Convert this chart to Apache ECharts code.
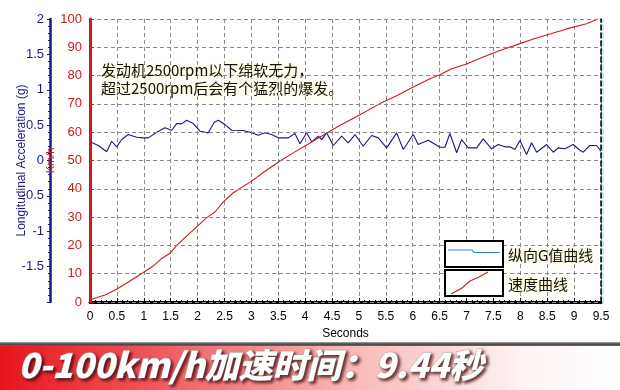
<!DOCTYPE html>
<html><head><meta charset="utf-8">
<script src="https://cdn.jsdelivr.net/npm/echarts@6/dist/echarts.min.js"></script>
<style>html,body{margin:0;padding:0;background:#fff}#c{width:620px;height:390px}</style>
</head><body><div id="c"></div>
<script>
var gTime = [0,0.154,0.31,0.403,0.496,0.589,0.712,0.868,0.991,1.084,1.24,1.394,1.519,1.612,1.704,1.797,1.92,2.045,2.199,2.31,2.385,2.509,2.634,2.849,3.006,3.128,3.253,3.377,3.5,3.686,3.81,3.903,4.028,4.121,4.244,4.307,4.4,4.522,4.634,4.678,4.801,4.926,5.08,5.236,5.359,5.515,5.701,5.824,6.009,6.102,6.288,6.506,6.599,6.691,6.816,6.909,7.032,7.188,7.31,7.466,7.589,7.714,7.807,7.9,7.993,8.117,8.21,8.303,8.489,8.612,8.704,8.829,8.983,9.108,9.169,9.294,9.418,9.498];
var gVals = [0.264,0.212,0.123,0.272,0.193,0.296,0.367,0.329,0.32,0.32,0.399,0.462,0.428,0.522,0.518,0.569,0.522,0.414,0.391,0.541,0.569,0.508,0.428,0.423,0.391,0.357,0.391,0.367,0.32,0.32,0.381,0.236,0.391,0.264,0.343,0.296,0.391,0.212,0.306,0.343,0.25,0.367,0.202,0.353,0.32,0.179,0.391,0.155,0.367,0.226,0.287,0.188,0.188,0.381,0.109,0.296,0.179,0.179,0.306,0.165,0.226,0.193,0.193,0.155,0.282,0.085,0.25,0.117,0.226,0.117,0.179,0.165,0.226,0.145,0.117,0.212,0.212,0.131];
var speedTime = [0,0.279,0.496,0.743,0.991,1.177,1.333,1.487,1.612,1.797,2.013,2.169,2.323,2.478,2.664,3.006,3.253,3.532,3.779,4.028,4.3,4.634,5.019,5.39,5.701,6.009,6.32,6.506,6.723,7.001,7.31,7.621,7.993,8.24,8.55,8.86,9.232,9.44];
var speedVals = [0.8,2.5,4.5,7.4,10.4,12.7,15.4,17.2,20,23.3,27.1,29.8,31.8,35.4,38.6,42.7,46.2,49.8,52.7,55.5,58.6,62.3,66.2,70.1,72.9,76,78.9,80.3,82.4,84.1,86.6,88.9,91.3,92.9,94.7,96.5,98.3,100];
var legendNames = ['纵向G值曲线','速度曲线'];
var noteLines = ['发动机2500rpm以下绵软无力，','超过2500rpm后会有个猛烈的爆发。'];
var bannerText = '0-100km/h加速时间：9.44秒';

var gData = gTime.map(function(t,i){return [t,gVals[i]];});
var sData = speedTime.map(function(t,i){return [t,speedVals[i]];});
var font = '"Liberation Sans", Arial, sans-serif';
var cjk = '"Noto Sans CJK SC", sans-serif';
var navy = '#1a1a80', red = '#cc1a1a';

var chart = echarts.init(document.getElementById('c'), null, {renderer:'canvas'});
chart.setOption({
  animation:false,
  backgroundColor:'#fff',
  grid:{left:90,right:19,top:19,bottom:88,containLabel:false,outerBoundsMode:'none'},
  xAxis:[{
    type:'value',min:0,max:9.5,interval:0.5,
    name:'Seconds',nameLocation:'middle',nameGap:26,nameMoveOverlap:false,
    nameTextStyle:{color:'#000',fontSize:12,fontFamily:font},
    axisLine:{onZero:false,lineStyle:{color:'#000',width:3}},
    axisTick:{show:true,inside:true,length:4,lineStyle:{color:'#000'}},
    minorTick:{show:true,splitNumber:5,length:2,lineStyle:{color:'#000'}},
    axisLabel:{color:'#000',fontSize:12,fontFamily:font,margin:9},
    splitLine:{show:true,lineStyle:{color:'#888',type:[4,3],width:1}}
  },{
    type:'value',min:0,max:9.5,position:'top',
    axisLine:{show:true,lineStyle:{color:'#000',width:1.5}},
    axisTick:{show:false},axisLabel:{show:false},splitLine:{show:false}
  }],
  yAxis:[{
    type:'value',min:0,max:100,interval:10,position:'left',
    name:'Km/h',nameLocation:'middle',nameGap:34,nameRotate:90,nameMoveOverlap:false,
    nameTextStyle:{color:red,fontSize:11,fontFamily:font},
    axisLine:{show:true,onZero:false,lineStyle:{color:red,width:3}},
    axisTick:{show:true,inside:true,length:4,lineStyle:{color:red}},
    minorTick:{show:true,splitNumber:5,length:2,lineStyle:{color:red}},
    axisLabel:{color:red,fontSize:13,fontFamily:font,margin:8},
    splitLine:{show:true,lineStyle:{color:'#888',type:[4,3],width:1}},
    z:5
  },{
    type:'value',min:-2,max:2,interval:0.5,position:'left',offset:40,
    name:'Longitudinal Acceleration (g)',nameLocation:'middle',nameGap:22,nameRotate:90,nameMoveOverlap:false,
    nameTextStyle:{color:navy,fontSize:12,fontFamily:font},
    axisLine:{show:true,onZero:false,lineStyle:{color:navy,width:2.5}},
    axisTick:{show:true,length:3,lineStyle:{color:navy}},
    minorTick:{show:true,splitNumber:5,length:2,lineStyle:{color:navy}},
    axisLabel:{color:navy,fontSize:13,fontFamily:font,margin:6,
      formatter:function(v){return v===-2?'':String(v);}},
    splitLine:{show:false}
  },{
    type:'value',min:0,max:100,position:'right',
    axisLine:{show:true,onZero:false,lineStyle:{color:'#000',width:1.5,type:[5,3],shadowColor:'#9ee8ee',shadowOffsetX:2}},
    axisTick:{show:false},axisLabel:{show:false},splitLine:{show:false}
  }],
  series:[{
    name:legendNames[0],type:'line',xAxisIndex:0,yAxisIndex:1,data:gData,
    showSymbol:false,lineStyle:{color:navy,width:1.1},z:3
  },{
    name:legendNames[1],type:'line',xAxisIndex:0,yAxisIndex:0,data:sData,
    showSymbol:false,lineStyle:{color:red,width:1.1},z:4
  }],
  graphic:[
    {type:'text',left:101,top:61,z:20,style:{text:noteLines.join('\n'),font:'15px '+cjk,fill:'#111',lineHeight:18,
      textShadowColor:'#fff3a0',textShadowBlur:5}},
    {type:'rect',shape:{x:445,y:241,width:58,height:26},style:{fill:'#fff',stroke:'#000',lineWidth:2},z:20},
    {type:'polyline',shape:{points:[[448,250],[472,250],[474,252.5],[500,252.5]]},style:{stroke:'#3a80c8',lineWidth:1.2,fill:null},z:21},
    {type:'rect',shape:{x:445,y:270,width:58,height:26},style:{fill:'#fff',stroke:'#000',lineWidth:2},z:20},
    {type:'polyline',shape:{points:[[451,294],[462,288],[470,281],[479,277],[488,272]]},style:{stroke:red,lineWidth:1.1,fill:null},z:21},
    {type:'text',left:508,top:248,z:20,style:{text:legendNames[0],font:'15px '+cjk,fill:'#111',textShadowColor:'#fff3a0',textShadowBlur:5}},
    {type:'text',left:508,top:277,z:20,style:{text:legendNames[1],font:'15px '+cjk,fill:'#111',textShadowColor:'#fff3a0',textShadowBlur:5}},
    {type:'rect',shape:{x:0,y:342,width:620,height:4},style:{fill:new echarts.graphic.LinearGradient(0,0,0,1,[{offset:0,color:'#aaa'},{offset:0.5,color:'#444'},{offset:1,color:'#666'}])},z:20},
    {type:'rect',shape:{x:0,y:346,width:620,height:44},style:{fill:new echarts.graphic.LinearGradient(0,0,1,0,[{offset:0,color:'#e8141c'},{offset:0.25,color:'#f0585c'},{offset:0.55,color:'#f8b4b4'},{offset:0.85,color:'#fff4f4'},{offset:1,color:'#ffffff'}])},z:20},
    {type:'text',left:18,top:348,z:21,style:{text:bannerText,font:'italic 900 34px '+cjk,fill:'#fff',
      stroke:'#b0b0b0',lineWidth:1,textShadowColor:'rgba(60,0,0,0.75)',textShadowBlur:3,textShadowOffsetX:2,textShadowOffsetY:2}}
  ]
});
</script></body></html>
